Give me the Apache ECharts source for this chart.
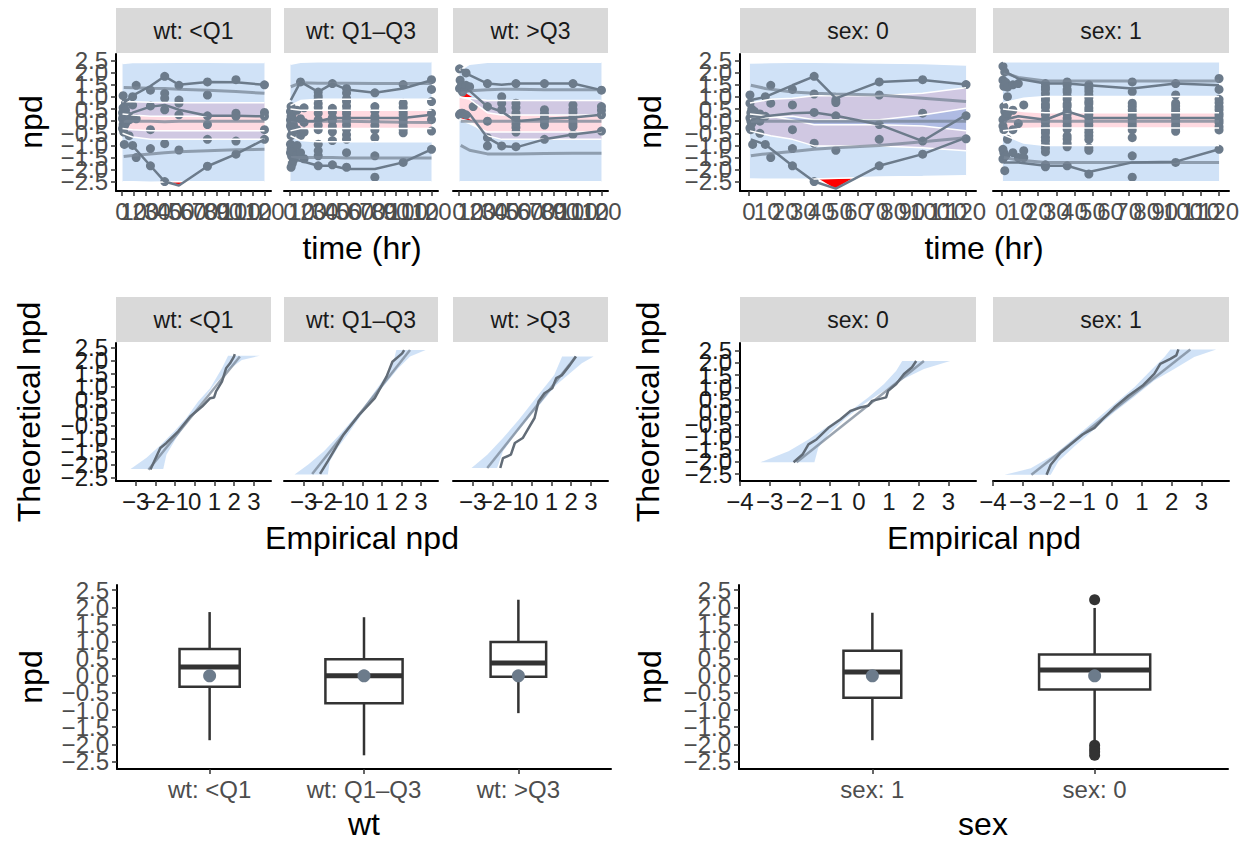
<!DOCTYPE html>
<html>
<head>
<meta charset="utf-8">
<script src="https://cdn.jsdelivr.net/npm/echarts@6/dist/echarts.min.js"></script>
<style>
  html, body { margin: 0; padding: 0; background: #fff; }
  #chart { width: 1252px; height: 841px; }
</style>
</head>
<body>
<div id="chart"></div>
<script>
// ---- data ----
const wtGroups = ['wt: <Q1', 'wt: Q1\u2013Q3', 'wt: >Q3'];
const sexGroups = ['sex: 0', 'sex: 1'];
const sexBoxOrder = ['sex: 1', 'sex: 0'];
const npdTicks = [-2.5, -2, -1.5, -1, -0.5, 0, 0.5, 1, 1.5, 2, 2.5];
const timeTicks = [0, 10, 20, 30, 40, 50, 60, 70, 80, 90, 100, 110, 120];
const qqTicksWt = [-3, -2, -1, 0, 1, 2, 3];
const qqTicksSex = [-4, -3, -2, -1, 0, 1, 2, 3];

// observed npd: [time, [npd values at that time]]
const ptsWtLow = [
  [0.5, [0.1, -0.3, 0.35]], [1, [0.55, -0.15, 0.2, 1.05]], [1.5, [0.0, -0.45, 0.4]],
  [2, [0.3, -0.2, -0.96]], [3, [0.74, 0.45, -0.1]], [6, [0.2, -0.6, 0.05]],
  [9, [1.01, 0.67, -1.0]], [12, [1.48, -1.5, 0.1]], [24, [1.28, 0.63, -0.35, -1.13, -1.84]],
  [36, [1.85, 1.15, 0.94, 0.47, -0.93, -2.49]], [48, [1.48, 0.87, 0.74, 0.26, -1.19]],
  [72, [1.62, 1.08, 0.22, -0.14, -0.75, -1.86]], [96, [1.71, 0.33, 0.2, -0.82, -1.36]],
  [120, [1.5, 0.36, 0.2, -0.35, -0.75]]
];
const ptsWtMid = [
  [0.5, [0.4, 0.05, -0.2, -0.95, -1.3]], [1, [0.6, 0.2, -0.1, -0.6, -1.15, -1.9]],
  [1.5, [0.15, -0.3, -1.05, -1.45]], [2, [0.3, -0.05, -0.5, -1.2, -1.75]],
  [3, [0.05, -0.15, -1.25, -1.6]], [6, [0.45, -0.35, -1.0, -1.4]], [9, [1.62, 0.1, -0.6, -1.3]],
  [12, [0.55, -0.05, -0.45, -1.55]],
  [24, [1.2, 1.04, 0.92, 0.73, 0.56, 0.33, 0.06, -0.17, -0.35, -0.95, -1.22, -1.43, -1.84]],
  [36, [1.55, 0.53, 0.37, 0.14, 0.02, -0.21, -0.44, -0.8, -1.8]],
  [48, [1.35, 1.16, 0.93, 0.81, 0.62, 0.44, 0.31, 0.13, 0.01, -0.16, -0.33, -0.56, -0.75, -1.3, -1.9]],
  [72, [1.17, 0.6, 0.41, 0.19, 0.02, -0.18, -0.36, -0.68, -1.43, -2.31]],
  [96, [1.51, 0.74, 0.57, 0.38, 0.26, 0.09, -0.06, -0.21, -0.34, -0.48, -1.7]],
  [120, [1.71, 1.31, 0.81, 0.33, 0.06, -0.41, -1.16]]
];
const ptsWtHigh = [
  [0.5, [2.16, 1.35, 0.26]], [1, [1.69, 0.3]], [2, [1.45, 0.33]], [3, [1.21, 0.33]],
  [6, [1.99, 1.48, 0.26]], [9, [1.42]], [12, [0.6]],
  [24, [1.55, 0.6, 0.0, -0.68, -1.02]], [36, [1.01, 0.74, 0.47, -1.02]],
  [48, [1.55, 0.74, 0.56, 0.34, 0.21, 0.04, -0.12, -0.26, -0.45, -1.05]],
  [72, [1.55, 0.47, 0.31, 0.14, 0.0, -0.16, -0.75]],
  [96, [1.55, 0.67, 0.49, 0.36, 0.19, 0.06, -0.11, -0.22, -0.55]],
  [120, [1.28, 0.6, 0.45, 0.26, -0.41]]
];
const ptsSex0 = [
  [0.5, [1.08, 0.74, 0.13, -0.28]], [1, [0.35, 0.0, -0.35]], [1.5, [0.2, -0.1, 0.5]],
  [2, [-0.96, 0.25]], [3, [0.4, 0.05]], [6, [0.0, 0.3, -0.5]], [9, [1.01, -0.96, 0.2]],
  [12, [1.48, 0.74, -1.5]], [24, [1.31, 0.67, -0.35, -1.13, -1.84]],
  [36, [1.85, 1.12, 0.36, -0.91, -2.49]], [48, [0.87, 0.77, 0.22, -1.2]],
  [72, [1.62, 1.08, -0.14, -0.75, -1.84]], [96, [1.71, 0.33, -0.82, -1.36]],
  [120, [1.51, 0.22, -0.73]]
];
const ptsSex1 = [
  [0.5, [2.26, 1.69, 0.06, -0.2, -1.16, -1.56]], [1, [1.44, 0.6, -0.35, -1.3]],
  [1.5, [2.03, 0.4, -2.04]], [2, [1.6, 0.2, -1.43]], [3, [1.4, 1.01, 0.3, -0.75]],
  [6, [1.5, 0.45, -0.35, -1.3]], [9, [1.55, -0.1, -1.5]], [12, [0.67, -1.22, -1.5]],
  [24, [1.55, 1.41, 1.31, 1.14, 0.98, 0.86, 0.69, 0.57, 0.38, 0.26, 0.08, -0.04, -0.21, -0.37, -0.49, -0.66, -0.81, -0.97, -1.12, -1.27, -1.8, -1.88]],
  [36, [1.62, 1.49, 1.31, 1.2, 1.02, 0.9, 0.71, 0.6, 0.41, 0.29, 0.12, -0.03, -0.18, -0.33, -0.61, -0.74, -0.92, -1.06, -1.84]],
  [48, [1.5, 1.37, 1.23, 1.08, 0.97, 0.81, 0.72, 0.54, 0.43, 0.27, 0.13, -0.03, -0.17, -0.31, -0.46, -0.6, -0.76, -1.1, -1.2, -2.18]],
  [72, [1.62, 1.21, 0.74, 0.61, 0.46, 0.34, 0.19, 0.07, -0.09, -0.21, -0.36, -0.68, -1.43, -2.31]],
  [96, [1.55, 1.08, 0.74, 0.63, 0.49, 0.37, 0.26, 0.11, 0.01, -0.15, -0.27, -0.42, -1.7]],
  [120, [1.76, 1.31, 0.9, 0.76, 0.59, 0.47, 0.32, 0.21, 0.05, -0.07, -0.23, -0.36, -1.16]]
];

// percentile lines: time, obs5, obs50, obs95, ther5, ther50, ther95
const pctWtLow = [
  [1.5, -0.96, 0.06, 0.75, -1.46, 0, 1.39], [9, -1.02, 0.35, 1.05, -1.42, 0, 1.38],
  [24, -1.84, 0.6, 1.45, -1.35, 0, 1.36], [36, -2.49, 0.67, 1.85, -1.3, -0.02, 1.35],
  [48, -2.65, 0.47, 1.5, -1.26, 0, 1.32], [72, -1.86, 0.22, 1.62, -1.22, 0, 1.28],
  [96, -1.36, 0.22, 1.6, -1.18, 0, 1.22], [120, -0.75, 0.2, 1.5, -1.16, 0, 1.15]
];
const pctWtMid = [
  [0.75, -1.56, 0.06, 0.87, -1.5, 0.02, 1.42], [9, -1.63, 0.0, 1.62, -1.5, 0, 1.58],
  [24, -1.84, 0.0, 1.21, -1.5, 0, 1.56], [36, -1.84, 0.13, 1.55, -1.5, 0, 1.56],
  [48, -1.97, 0.13, 1.31, -1.52, 0, 1.56], [72, -1.97, 0.13, 1.17, -1.52, -0.02, 1.55],
  [96, -1.7, 0.13, 1.35, -1.52, -0.04, 1.55], [120, -1.16, 0.26, 1.69, -1.52, -0.05, 1.55]
];
const pctWtHigh = [
  [1.5, 0.3, 1.3, 2.15, -1.0, 0, 1.15], [9, 0.3, 1.25, 1.9, -1.2, 0, 1.25],
  [24, -0.68, 0.6, 1.55, -1.35, 0, 1.3], [36, -1.02, 0.4, 1.5, -1.35, 0, 1.32],
  [48, -1.08, 0.0, 1.55, -1.35, 0, 1.32], [72, -0.75, 0.1, 1.55, -1.33, 0, 1.3],
  [96, -0.55, 0.15, 1.55, -1.32, 0, 1.3], [120, -0.41, 0.26, 1.28, -1.32, 0, 1.3]
];
const pctSex0 = [
  [1, -0.75, 0.06, 0.87, -1.43, 0, 1.48], [9, -0.96, 0.2, 1.0, -1.35, 0, 1.35],
  [24, -1.84, 0.33, 1.48, -1.25, 0, 1.2], [36, -2.49, 0.36, 1.85, -1.16, 0, 1.15],
  [48, -2.78, 0.22, 0.94, -1.1, 0, 1.12], [72, -1.84, -0.14, 1.62, -1.0, 0, 1.08],
  [96, -1.36, -0.82, 1.7, -0.85, 0, 0.95], [120, -0.68, 0.26, 1.51, -0.68, 0, 0.81]
];
const pctSex1 = [
  [1, -1.7, 0.06, 2.07, -1.5, 0, 2.0], [9, -1.7, 0.2, 1.75, -1.6, 0, 1.8],
  [24, -1.84, 0.06, 1.55, -1.7, 0, 1.66], [36, -1.84, 0.4, 1.55, -1.7, 0, 1.66],
  [48, -2.1, 0.13, 1.48, -1.7, 0, 1.66], [72, -1.7, 0.13, 1.35, -1.7, 0, 1.66],
  [96, -1.67, 0.13, 1.55, -1.7, 0, 1.66], [120, -1.16, 0.13, 1.48, -1.7, 0, 1.66]
];

// prediction bands: time, lo5, hi5, lo50, hi50, lo95, hi95
const bandWtLow = [
  [0.5, -2.5, -0.3, -0.5, 0.8, 0.3, 2.38], [9, -2.5, -0.35, -0.65, 0.8, 0.25, 2.42],
  [24, -2.52, -0.4, -0.75, 0.78, 0.2, 2.42], [48, -2.5, -0.4, -0.75, 0.76, 0.2, 2.43],
  [72, -2.5, -0.4, -0.75, 0.76, 0.2, 2.43], [96, -2.5, -0.4, -0.75, 0.76, 0.2, 2.42],
  [120, -2.5, -0.4, -0.75, 0.76, 0.2, 2.42]
];
const bandWtMid = [
  [0.5, -2.5, -0.6, -0.4, 0.5, 0.65, 2.35], [9, -2.5, -0.8, -0.3, 0.45, 0.85, 2.43],
  [24, -2.5, -0.85, -0.3, 0.45, 0.9, 2.45], [72, -2.5, -0.85, -0.3, 0.45, 0.9, 2.45],
  [120, -2.5, -0.85, -0.3, 0.45, 0.9, 2.45]
];
const bandWtHigh = [
  [0.5, -2.5, 0.05, 0.1, 1.0, 1.0, 2.1], [9, -2.5, -0.1, 0.0, 0.95, 0.9, 2.35],
  [24, -2.5, -0.45, -0.6, 0.85, 0.35, 2.43], [36, -2.5, -0.45, -0.75, 0.85, 0.25, 2.43],
  [72, -2.5, -0.45, -0.75, 0.85, 0.25, 2.43], [120, -2.5, -0.45, -0.75, 0.85, 0.25, 2.43]
];
const bandSex0 = [
  [0.5, -2.38, 0.1, -0.4, 0.75, 0.3, 2.4], [12, -2.4, 0.15, -0.6, 0.9, 0.2, 2.42],
  [24, -2.4, 0.2, -0.75, 0.95, 0.05, 2.43], [36, -2.38, 0.06, -1.02, 1.05, -0.15, 2.43],
  [72, -2.3, 0.06, -1.02, 1.05, -0.15, 2.4], [96, -2.28, 0.25, -1.1, 1.15, -0.2, 2.38],
  [120, -2.25, 0.53, -1.22, 1.38, -0.4, 2.32]
];
const bandSex1 = [
  [0.5, -2.5, -0.55, -0.4, 0.5, 0.75, 2.45], [12, -2.5, -0.9, -0.3, 0.4, 0.95, 2.45],
  [24, -2.5, -1.0, -0.28, 0.35, 1.02, 2.45], [120, -2.5, -1.0, -0.28, 0.35, 1.02, 2.45]
];

// observed percentiles outside their band (red areas): [time, npd] vertices
const redWtLow = [[[42, -2.5], [54, -2.5], [48, -2.65]]];
const redWtHigh = [[[1.5, 1.28], [11, 1.0], [1.5, 1.0]], [[1.5, 0.3], [11, 0.02], [1.5, 0.05]]];
const redSex0 = [[[38.8, -2.38], [57, -2.36], [47.6, -2.78]]];

// QQ plots: [empirical, theoretical]
const qqBandLeftWtLow = [[-3.26, -2.16], [-2.45, -1.73], [-1.75, -1.25], [-1.04, -0.71], [-0.43, -0.2], [0.17, 0.43], [0.78, 0.94], [1.38, 1.71], [1.69, 2.19]];
const qqBandRightWtLow = [[-1.6, -2.16], [-1.44, -1.61], [-0.94, -0.97], [-0.33, -0.33], [0.37, 0.43], [0.98, 1.07], [1.59, 1.58], [2.39, 2.03], [3.3, 2.19]];
const qqTherWtLow = [[-2.35, -2.19], [2.29, 2.16]];
const qqEmpWtLow = [[-2.25, -2.18], [-1.75, -1.35], [-1.44, -1.16], [-0.84, -0.71], [-0.23, -0.14], [0.37, 0.24], [0.78, 0.56], [0.98, 0.59], [1.08, 0.82], [1.38, 1.2], [1.59, 1.71], [1.79, 1.9], [1.99, 2.16], [2.03, 2.25]];

const qqBandLeftWtMid = [[-3.46, -2.37], [-2.76, -1.99], [-1.96, -1.48], [-1.16, -0.84], [-0.56, -0.33], [0.04, 0.18], [0.64, 0.82], [1.24, 1.45], [1.64, 2.09], [1.74, 2.41]];
const qqBandRightWtMid = [[-1.76, -2.37], [-1.66, -1.86], [-1.26, -1.35], [-0.76, -0.84], [-0.16, -0.2], [0.44, 0.43], [1.14, 1.07], [1.84, 1.71], [2.44, 2.16], [3.24, 2.41]];
const qqTherWtMid = [[-2.56, -2.35], [2.44, 2.41]];
const qqEmpWtMid = [[-2.16, -2.35], [-1.76, -1.86], [-0.96, -0.84], [-0.16, -0.08], [0.64, 0.56], [1.24, 1.39], [1.54, 1.96], [2.04, 2.28], [2.14, 2.41]];

const qqBandLeftWtHigh = [[-3.06, -2.12], [-2.26, -1.61], [-1.46, -0.97], [-0.66, -0.27], [-0.06, 0.31], [0.54, 0.88], [1.14, 1.45], [1.54, 2.16]];
const qqBandRightWtHigh = [[-1.76, -2.12], [-1.46, -1.48], [-0.86, -0.84], [-0.16, -0.2], [0.54, 0.43], [1.24, 1.07], [1.94, 1.52], [2.54, 1.9], [3.14, 2.16]];
const qqTherWtHigh = [[-2.26, -2.12], [2.24, 2.16]];
const qqEmpWtHigh = [[-1.6, -2.12], [-1.46, -1.74], [-1.06, -1.61], [-0.86, -1.16], [-0.46, -0.97], [-0.26, -0.71], [0.14, -0.2], [0.34, 0.43], [0.64, 0.75], [1.04, 0.94], [1.24, 1.33], [1.54, 1.45], [1.94, 1.84], [2.24, 2.16]];

const qqBandLeftSex0 = [[-3.31, -2.02], [-2.37, -1.58], [-1.7, -1.1], [-1.03, -0.56], [-0.36, -0.01], [0.31, 0.6], [0.84, 1.14], [1.25, 1.68], [1.45, 2.07]];
const qqBandRightSex0 = [[-1.5, -2.02], [-1.37, -1.44], [-1.03, -0.9], [-0.5, -0.29], [0.17, 0.33], [0.84, 0.87], [1.51, 1.35], [2.18, 1.75], [3.06, 2.07]];
const qqTherSex0 = [[-2.1, -2.02], [2.18, 2.07]];
const qqEmpSex0 = [[-2.2, -2.02], [-1.9, -1.71], [-1.7, -1.3], [-1.43, -1.1], [-1.03, -0.63], [-0.63, -0.29], [-0.29, 0.05], [0.04, 0.19], [0.31, 0.26], [0.44, 0.46], [0.91, 0.6], [0.98, 0.87], [1.25, 1.14], [1.51, 1.55], [1.78, 1.82], [1.92, 2.07]];

const qqBandLeftSex1 = [[-3.61, -2.53], [-2.73, -2.26], [-1.93, -1.71], [-1.26, -1.03], [-0.59, -0.35], [0.08, 0.33], [0.75, 1.01], [1.29, 1.68], [1.76, 2.23], [1.96, 2.54]];
const qqBandRightSex1 = [[-2.06, -2.53], [-1.8, -1.98], [-1.26, -1.37], [-0.59, -0.69], [0.08, 0.01], [0.75, 0.63], [1.42, 1.28], [2.09, 1.75], [2.76, 2.23], [3.5, 2.54]];
const qqTherSex1 = [[-2.71, -2.53], [2.63, 2.54]];
const qqEmpSex1 = [[-2.2, -2.53], [-2.06, -2.12], [-1.73, -1.64], [-1.39, -1.3], [-0.99, -0.9], [-0.59, -0.63], [-0.32, -0.29], [0.08, 0.19], [0.55, 0.67], [1.02, 1.07], [1.42, 1.55], [1.62, 1.96], [1.96, 2.16], [2.16, 2.3], [2.23, 2.54]];

// boxplots: lower whisker, Q1, median, Q3, upper whisker
const boxStatsWt = [[-1.88, -0.32, 0.26, 0.78, 1.86], [-2.32, -0.8, 0.0, 0.48, 1.71], [-1.09, -0.03, 0.37, 0.99, 2.22]];
const boxMeanWt = [0, 0, 0];
const boxStatsSex = [[-1.88, -0.64, 0.11, 0.73, 1.84], [-1.93, -0.4, 0.17, 0.62, 1.98]];
const boxMeanSex = [0, 0];
const outliersSex = [[2, 2.22], [2, -2.03], [2, -2.13], [2, -2.22], [2, -2.32]];
const boxWidthWt = [0.39, 0.5, 0.36];
const boxWidthSex = [0.26, 0.5];

// ---- chart ----
const FONT = '"Liberation Sans", Arial, Helvetica, sans-serif';
const BLUE = 'rgba(100,160,230,0.3)';
const PINK = 'rgba(255,150,170,0.35)';
const PT = '#6C7B8B';
const OBS = '#6C7B8B';
const THER = 'rgba(120,134,150,0.75)';
const TICK_FS = 24, TITLE_FS = 32, STRIP_FS = 23;
const LABEL_GAP = 8;

const chart = echarts.init(document.getElementById('chart'), null, { renderer: 'svg' });
const grid = [], xAxis = [], yAxis = [], series = [], graphic = [];

const npdLabel = v => v.toFixed(1).replace('-', '\u2212');
const numLabel = v => String(v).replace('-', '\u2212');

// tick labels drawn as text at axis positions, so that the crowded labels all stay (as in the reference)
function tickText(g, values, fmt, dir, anchor, color) {
  series.push({
    type: 'custom', xAxisIndex: g, yAxisIndex: g, silent: true, clip: false, z: 10,
    data: values.map(v => dir === 'y' ? [anchor, v] : [v, anchor]),
    renderItem: (p, api) => {
      const pt = api.coord([api.value(0), api.value(1)]);
      const v = dir === 'y' ? api.value(1) : api.value(0);
      return {
        type: 'text',
        x: dir === 'y' ? pt[0] - LABEL_GAP : pt[0],
        y: dir === 'y' ? pt[1] : pt[1] + LABEL_GAP,
        style: {
          text: fmt(v), fill: color, font: TICK_FS + 'px ' + FONT,
          align: dir === 'y' ? 'right' : 'center', verticalAlign: dir === 'y' ? 'middle' : 'top'
        }
      };
    }
  });
}

function addPanel(box, xr, yr, o) {
  const i = grid.length;
  grid.push({ left: box[0], top: box[1], width: box[2], height: box[3], outerBoundsMode: 'none' });
  xAxis.push({
    gridIndex: i, type: 'value', min: xr[0], max: xr[1],
    axisLine: { onZero: false, lineStyle: { color: '#000', width: 2 } },
    axisTick: { length: 5, customValues: o.xTicks, lineStyle: { color: '#333', width: 1.5 } },
    axisLabel: { show: !!o.axisXLabels, customValues: o.xTicks, formatter: o.xFmt, fontSize: TICK_FS, color: o.color, fontFamily: FONT, margin: LABEL_GAP },
    splitLine: { show: false }
  });
  yAxis.push({
    gridIndex: i, type: 'value', min: yr[0], max: yr[1],
    axisLine: { show: o.showY, onZero: false, lineStyle: { color: '#000', width: 2 } },
    axisTick: { show: o.showY, length: 5, customValues: npdTicks, lineStyle: { color: '#333', width: 1.5 } },
    axisLabel: { show: false },
    splitLine: { show: false }
  });
  if (!o.axisXLabels) tickText(i, o.xTicks, o.xFmt, 'x', yr[0], o.color);
  if (o.showY) tickText(i, npdTicks, npdLabel, 'y', xr[0], o.color);
  return i;
}

function polygon(g, pts, fill) {
  series.push({
    type: 'custom', xAxisIndex: g, yAxisIndex: g, silent: true, data: [pts[0]],
    renderItem: (p, api) => ({ type: 'polygon', shape: { points: pts.map(q => api.coord(q)) }, style: { fill: fill } })
  });
}
function line(g, pts, color, width) {
  series.push({ type: 'line', xAxisIndex: g, yAxisIndex: g, data: pts, symbol: 'none', silent: true, lineStyle: { color: color, width: width } });
}
function points(g, pts, color, size) {
  series.push({ type: 'scatter', xAxisIndex: g, yAxisIndex: g, data: pts, symbolSize: size, silent: true, itemStyle: { color: color, opacity: 1 } });
}

function vpcPanel(g, pts, pct, band, reds) {
  const col = k => band.map(r => [r[0], r[k]]);
  const ribbon = (lo, hi) => col(hi).concat(col(lo).reverse());
  polygon(g, ribbon(3, 4), PINK);
  polygon(g, ribbon(5, 6), BLUE);
  polygon(g, ribbon(1, 2), BLUE);
  [1, 2, 3, 4, 5, 6].forEach(k => line(g, col(k), '#fff', 1.5));
  (reds || []).forEach(r => polygon(g, r, '#ff0000'));
  [4, 5, 6].forEach(k => line(g, pct.map(r => [r[0], r[k]]), THER, 3));
  const flat = [];
  pts.forEach(([t, vs]) => vs.forEach(v => flat.push([t, v])));
  points(g, flat, PT, 9);
  [1, 2, 3].forEach(k => line(g, pct.map(r => [r[0], r[k]]), OBS, 2.5));
}

function qqPanel(g, left, right, ther, emp) {
  polygon(g, left.concat(right.slice().reverse()), BLUE);
  line(g, ther, THER, 2.5);
  line(g, emp, '#626C77', 2.5);
}

function boxPanel(g, stats, widths, means, outliers) {
  series.push({
    type: 'custom', xAxisIndex: g, yAxisIndex: g, silent: true,
    data: stats.map((s, i) => [i + 1].concat(s)),
    renderItem: (p, api) => {
      const x = api.value(0);
      const half = api.size([widths[p.dataIndex], 0])[0] / 2;
      const c = v => api.coord([x, v]);
      const lo = c(api.value(1)), q1 = c(api.value(2)), md = c(api.value(3)), q3 = c(api.value(4)), hi = c(api.value(5));
      const st = { stroke: '#333333', lineWidth: 2.5, fill: 'none' };
      return {
        type: 'group', children: [
          { type: 'line', shape: { x1: hi[0], y1: hi[1], x2: q3[0], y2: q3[1] }, style: st },
          { type: 'line', shape: { x1: q1[0], y1: q1[1], x2: lo[0], y2: lo[1] }, style: st },
          { type: 'rect', shape: { x: q3[0] - half, y: q3[1], width: 2 * half, height: q1[1] - q3[1] }, style: { stroke: '#333333', lineWidth: 2.5, fill: '#fff' } },
          { type: 'line', shape: { x1: md[0] - half, y1: md[1], x2: md[0] + half, y2: md[1] }, style: { stroke: '#333333', lineWidth: 5 } }
        ]
      };
    }
  });
  if (outliers) points(g, outliers, '#333333', 11);
  points(g, means.map((m, i) => [i + 1, m]), PT, 13);
}

function strip(x, y, w, h, text) {
  graphic.push({ type: 'rect', shape: { x: x, y: y, width: w, height: h }, style: { fill: '#D9D9D9' }, silent: true });
  graphic.push({ type: 'text', x: x + w / 2, y: y + h / 2, silent: true,
    style: { text: text, fill: '#1A1A1A', font: STRIP_FS + 'px ' + FONT, align: 'center', verticalAlign: 'middle' } });
}
function title(x, y, text, rotate) {
  graphic.push({ type: 'text', x: x, y: y, rotation: rotate ? Math.PI / 2 : 0, silent: true,
    style: { text: text, fill: '#000', font: TITLE_FS + 'px ' + FONT, align: 'center', verticalAlign: 'middle' } });
}

// layout
const colsWt = [[116, 155], [284, 154], [453, 155]];
const colsSex = [[740, 236], [993, 236]];
const TOP = [54, 137], MID = [343, 138];
const timeRange = [-5, 125.5], topY = [-2.88, 2.77];

// row 1: npd vs time
const vpcWt = [[ptsWtLow, pctWtLow, bandWtLow, redWtLow], [ptsWtMid, pctWtMid, bandWtMid, null], [ptsWtHigh, pctWtHigh, bandWtHigh, redWtHigh]];
colsWt.forEach((c, i) => {
  const g = addPanel([c[0], TOP[0], c[1], TOP[1]], timeRange, topY, { xTicks: timeTicks, xFmt: numLabel, color: '#4D4D4D', showY: i === 0 });
  vpcPanel(g, ...vpcWt[i]);
  strip(c[0], 8, c[1], 45, wtGroups[i]);
});
const vpcSex = [[ptsSex0, pctSex0, bandSex0, redSex0], [ptsSex1, pctSex1, bandSex1, null]];
colsSex.forEach((c, i) => {
  const g = addPanel([c[0], TOP[0], c[1], TOP[1]], timeRange, topY, { xTicks: timeTicks, xFmt: numLabel, color: '#4D4D4D', showY: i === 0 });
  vpcPanel(g, ...vpcSex[i]);
  strip(c[0], 8, c[1], 45, sexGroups[i]);
});

// row 2: QQ plots
const qqWt = [[qqBandLeftWtLow, qqBandRightWtLow, qqTherWtLow, qqEmpWtLow], [qqBandLeftWtMid, qqBandRightWtMid, qqTherWtMid, qqEmpWtMid], [qqBandLeftWtHigh, qqBandRightWtHigh, qqTherWtHigh, qqEmpWtHigh]];
colsWt.forEach((c, i) => {
  const g = addPanel([c[0], MID[0], c[1], MID[1]], [-4.0, 3.87], [-2.62, 2.68], { xTicks: qqTicksWt, xFmt: numLabel, color: '#1A1A1A', showY: i === 0 });
  qqPanel(g, ...qqWt[i]);
  strip(c[0], 297, c[1], 45, wtGroups[i]);
});
const qqSex = [[qqBandLeftSex0, qqBandRightSex0, qqTherSex0, qqEmpSex0], [qqBandLeftSex1, qqBandRightSex1, qqTherSex1, qqEmpSex1]];
colsSex.forEach((c, i) => {
  const g = addPanel([c[0], MID[0], c[1], MID[1]], [-4.0, 3.93], [-2.78, 2.8], { xTicks: qqTicksSex, xFmt: numLabel, color: '#1A1A1A', showY: i === 0 });
  qqPanel(g, ...qqSex[i]);
  strip(c[0], 297, c[1], 45, sexGroups[i]);
});

// row 3: boxplots
const gBoxWt = addPanel([117, 585, 494, 184], [0.4, 3.6], [-2.72, 2.65], { xTicks: [1, 2, 3], xFmt: v => wtGroups[v - 1], color: '#4D4D4D', showY: true, axisXLabels: true });
boxPanel(gBoxWt, boxStatsWt, boxWidthWt, boxMeanWt, null);
const gBoxSex = addPanel([739, 585, 489, 184], [0.4, 2.6], [-2.72, 2.65], { xTicks: [1, 2], xFmt: v => sexBoxOrder[v - 1], color: '#4D4D4D', showY: true, axisXLabels: true });
boxPanel(gBoxSex, boxStatsSex, boxWidthSex, boxMeanSex, outliersSex);

// axis titles
title(31, 122, 'npd', true); title(650, 122, 'npd', true);
title(362, 248, 'time (hr)'); title(984, 248, 'time (hr)');
title(29, 412, 'Theoretical npd', true); title(648, 412, 'Theoretical npd', true);
title(362, 538, 'Empirical npd'); title(984, 538, 'Empirical npd');
title(31, 677, 'npd', true); title(650, 677, 'npd', true);
title(364, 824, 'wt'); title(983, 824, 'sex');

chart.setOption({
  animation: false,
  backgroundColor: '#fff',
  grid: grid, xAxis: xAxis, yAxis: yAxis, series: series, graphic: graphic
});

window.addEventListener('resize', () => chart.resize());
</script>
</body>
</html>
